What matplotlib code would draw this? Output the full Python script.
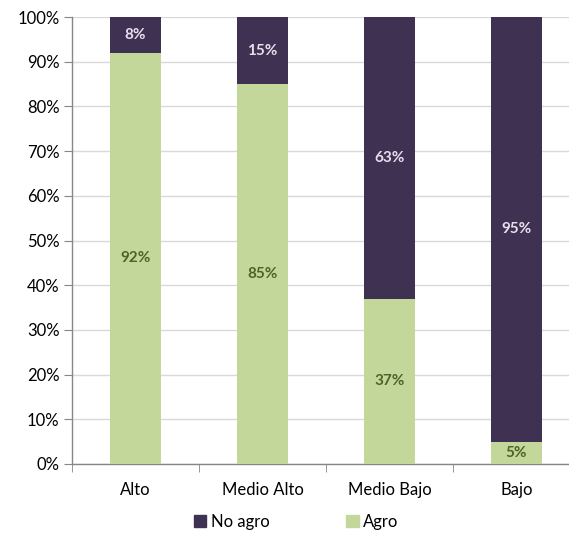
import matplotlib.pyplot as plt
from matplotlib.patches import Patch
from matplotlib.ticker import PercentFormatter

plt.rcParams['font.family'] = ['Lato', 'DejaVu Sans']

categories = ["Alto", "Medio Alto", "Medio Bajo", "Bajo"]
agro = [92, 85, 37, 5]
no_agro = [8, 15, 63, 95]

GREEN = "#c4d79b"
PURPLE = "#3f3151"

fig = plt.figure(figsize=(5.69, 5.33), dpi=100)
ax = fig.add_axes([72 / 569, 69 / 533, 508 / 569, 447 / 533])

x = range(len(categories))
ax.bar(x, agro, width=0.40, color=GREEN, zorder=3)
ax.bar(x, no_agro, width=0.40, bottom=agro, color=PURPLE, zorder=3)

for i in x:
    ax.text(i, agro[i] / 2, f"{agro[i]}%", ha="center", va="center",
            color="#4f6228", fontsize=11, fontweight="bold", zorder=4)
    ax.text(i, agro[i] + no_agro[i] / 2, f"{no_agro[i]}%", ha="center", va="center",
            color="#e6e0ee", fontsize=11, fontweight="bold", zorder=4)

ax.set_xlim(-0.5, len(categories) - 0.5)
ax.set_ylim(0, 100)
ax.set_yticks(range(0, 101, 10))
ax.yaxis.set_major_formatter(PercentFormatter(decimals=0))
ax.yaxis.grid(True, color="#d9d9d9", linewidth=1, zorder=0)

ax.set_xticks(list(x))
ax.set_xticklabels(categories)
ax.set_xticks([i + 0.5 for i in range(-1, len(categories))], minor=True)
ax.tick_params(axis="x", which="major", length=0, pad=13, labelsize=12)
ax.tick_params(axis="x", which="minor", length=6, color="#868686", direction="out")
ax.tick_params(axis="y", length=6, color="#868686", labelsize=12, pad=3)

for s in ["top", "right"]:
    ax.spines[s].set_visible(False)
for s in ["left", "bottom"]:
    ax.spines[s].set_color("#868686")
    ax.spines[s].set_linewidth(1)

handles = [Patch(color=PURPLE, label="No agro"), Patch(color=GREEN, label="Agro")]
fig.legend(handles=handles, loc="center", bbox_to_anchor=(296 / 569, 11 / 533), ncol=2,
           frameon=False, fontsize=12, handlelength=0.75, handleheight=0.75,
           handletextpad=0.25, columnspacing=4.6)

fig.savefig("out.png", dpi=100)
